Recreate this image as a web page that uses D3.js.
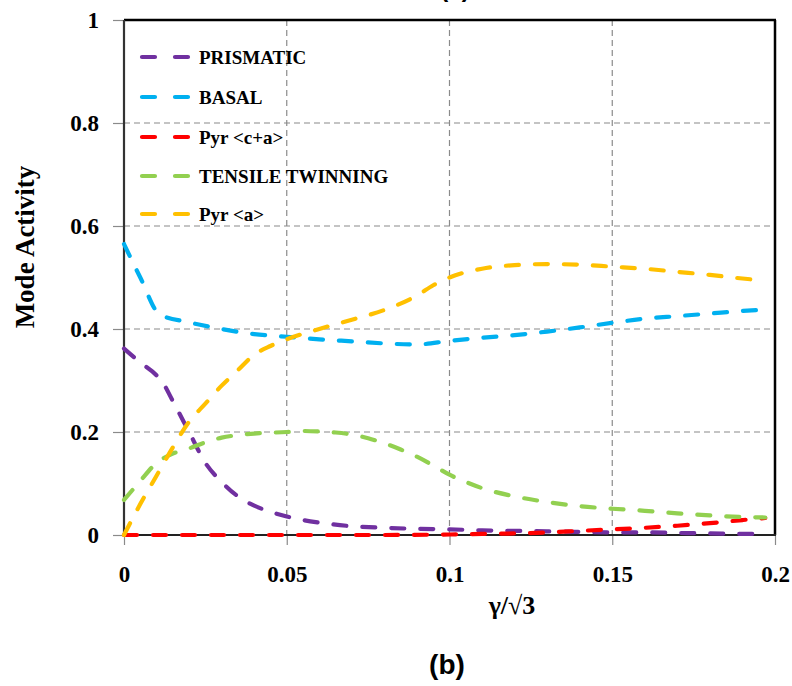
<!DOCTYPE html>
<html>
<head>
<meta charset="utf-8">
<script src="https://cdn.jsdelivr.net/npm/d3@7"></script>
<style>
  html, body { margin: 0; padding: 0; background: #fff; }
  svg { display: block; }
</style>
</head>
<body>
<svg id="chart" width="792" height="686"></svg>
<script>
// ---------- data ----------
const seriesNames = ["PRISMATIC", "BASAL", "Pyr <c+a>", "TENSILE TWINNING", "Pyr <a>"];
const seriesColors = ["#7030A0", "#00B0F0", "#FF0000", "#92D050", "#FFC000"];

const prismaticX = [0, 0.005, 0.01, 0.012, 0.015, 0.02, 0.025, 0.03, 0.035, 0.04, 0.045, 0.05, 0.055, 0.06, 0.07, 0.08, 0.09, 0.1, 0.11, 0.12, 0.13, 0.14, 0.15, 0.16, 0.17, 0.18, 0.19, 0.197];
const prismaticY = [0.362, 0.335, 0.31, 0.295, 0.26, 0.2, 0.14, 0.103, 0.075, 0.057, 0.045, 0.036, 0.029, 0.024, 0.017, 0.014, 0.012, 0.011, 0.009, 0.008, 0.007, 0.006, 0.005, 0.005, 0.004, 0.003, 0.002, 0.002];

const basalX = [0, 0.005, 0.011, 0.02, 0.03, 0.04, 0.05, 0.06, 0.07, 0.08, 0.09, 0.1, 0.11, 0.12, 0.13, 0.14, 0.15, 0.16, 0.17, 0.18, 0.19, 0.197];
const basalY = [0.565, 0.5, 0.428, 0.413, 0.4, 0.39, 0.385, 0.38, 0.376, 0.372, 0.37, 0.377, 0.383, 0.388, 0.395, 0.403, 0.412, 0.42, 0.425, 0.43, 0.435, 0.438];

const pyrcaX = [0, 0.02, 0.04, 0.06, 0.08, 0.1, 0.11, 0.12, 0.13, 0.14, 0.15, 0.16, 0.17, 0.18, 0.19, 0.197];
const pyrcaY = [0, 0, 0, 0, 0, 0.001, 0.002, 0.003, 0.005, 0.008, 0.011, 0.014, 0.018, 0.023, 0.029, 0.033];

const twinX = [0, 0.005, 0.01, 0.015, 0.02, 0.025, 0.03, 0.035, 0.04, 0.05, 0.055, 0.06, 0.065, 0.07, 0.075, 0.08, 0.085, 0.09, 0.095, 0.1, 0.105, 0.11, 0.12, 0.13, 0.14, 0.15, 0.16, 0.17, 0.18, 0.19, 0.197];
const twinY = [0.068, 0.105, 0.14, 0.158, 0.168, 0.18, 0.189, 0.194, 0.197, 0.2, 0.202, 0.201, 0.199, 0.195, 0.188, 0.178, 0.166, 0.152, 0.135, 0.117, 0.103, 0.091, 0.075, 0.064, 0.056, 0.051, 0.047, 0.042, 0.038, 0.035, 0.034];

const pyraX = [0, 0.005, 0.01, 0.015, 0.02, 0.025, 0.03, 0.035, 0.04, 0.045, 0.05, 0.06, 0.07, 0.08, 0.09, 0.095, 0.1, 0.11, 0.12, 0.13, 0.14, 0.15, 0.16, 0.17, 0.18, 0.19, 0.197];
const pyraY = [0, 0.06, 0.115, 0.17, 0.22, 0.255, 0.29, 0.32, 0.35, 0.367, 0.38, 0.4, 0.418, 0.437, 0.465, 0.485, 0.5, 0.517, 0.524, 0.526, 0.525, 0.521, 0.517, 0.511, 0.505, 0.498, 0.494];

const xTicks = [0, 0.05, 0.1, 0.15, 0.2];
const xTickLabels = ["0", "0.05", "0.1", "0.15", "0.2"];
const yTicks = [0, 0.2, 0.4, 0.6, 0.8, 1];
const yTickLabels = ["0", "0.2", "0.4", "0.6", "0.8", "1"];

const xTitle = "γ/√3";
const yTitle = "Mode Activity";
const panelLabel = "(b)";
const topLabel = "(a)";

// ---------- build ----------
(function () {
const seriesXs = [prismaticX, basalX, pyrcaX, twinX, pyraX];
const seriesYs = [prismaticY, basalY, pyrcaY, twinY, pyraY];
const series = seriesNames.map((name, i) => ({
  name, color: seriesColors[i],
  points: seriesXs[i].map((xv, j) => ({ x: xv, y: seriesYs[i][j] }))
}));

const svg = d3.select("#chart");
const pL = 124, pR = 775, pT = 20, pB = 535;
const x = d3.scaleLinear().domain([0, 0.2]).range([pL, pR]);
const y = d3.scaleLinear().domain([0, 1]).range([pB, pT]);

const serif = "'Liberation Serif', 'Times New Roman', serif";
const sans = "'Liberation Sans', Arial, sans-serif";
const gridColor = "#8a8a8a";

// gridlines
svg.append("g").selectAll("line").data(xTicks.filter(t => t > 0 && t < 0.2)).join("line")
  .attr("x1", d => x(d)).attr("x2", d => x(d)).attr("y1", pT).attr("y2", pB)
  .attr("stroke", gridColor).attr("stroke-width", 1.2).attr("stroke-dasharray", "6,4");
svg.append("g").selectAll("line").data(yTicks.filter(t => t > 0 && t < 1)).join("line")
  .attr("x1", pL).attr("x2", pR).attr("y1", d => y(d)).attr("y2", d => y(d))
  .attr("stroke", gridColor).attr("stroke-width", 1.2).attr("stroke-dasharray", "6,4");

// axes
const xAxis = d3.axisBottom(x).tickValues(xTicks).tickFormat((d, i) => xTickLabels[i]).tickSize(10).tickPadding(21);
const gx = svg.append("g").attr("transform", `translate(0,${pB})`).call(xAxis);
gx.select(".domain").remove();
gx.selectAll(".tick line").attr("stroke", gridColor).attr("stroke-width", 1.2);
gx.selectAll(".tick text").attr("font-family", serif).attr("font-weight", "bold").attr("font-size", 23).attr("fill", "#000");

const yAxis = d3.axisLeft(y).tickValues(yTicks).tickFormat((d, i) => yTickLabels[i]).tickSize(11).tickPadding(14);
const gy = svg.append("g").attr("transform", `translate(${pL},0)`).call(yAxis);
gy.select(".domain").remove();
gy.selectAll(".tick line").attr("stroke", gridColor).attr("stroke-width", 1.2);
gy.selectAll(".tick text").attr("font-family", serif).attr("font-weight", "bold").attr("font-size", 23).attr("fill", "#000");

// frame
svg.append("line").attr("x1", pL).attr("x2", pR + 1).attr("y1", pT).attr("y2", pT).attr("stroke", "#000").attr("stroke-width", 2.5);
svg.append("line").attr("x1", pR).attr("x2", pR).attr("y1", pT).attr("y2", pB).attr("stroke", "#000").attr("stroke-width", 2.5);
svg.append("line").attr("x1", pL).attr("x2", pL).attr("y1", pT).attr("y2", pB + 1).attr("stroke", "#333").attr("stroke-width", 2.2);
svg.append("line").attr("x1", pL).attr("x2", pR + 1).attr("y1", pB).attr("y2", pB).attr("stroke", "#222").attr("stroke-width", 2.2);

// series
const line = d3.line().x(d => x(d.x)).y(d => y(d.y)).curve(d3.curveMonotoneX);
svg.append("g").selectAll("path").data(series).join("path")
  .attr("d", d => line(d.points))
  .attr("fill", "none").attr("stroke", d => d.color)
  .attr("stroke-width", 4.2).attr("stroke-linecap", "round")
  .attr("stroke-dasharray", "13,16");

// legend
const lg = svg.append("g");
const legendRows = [57, 97, 137, 176, 214];
series.forEach((s, i) => {
  const yy = legendRows[i];
  lg.append("line").attr("x1", 142).attr("x2", 188).attr("y1", yy).attr("y2", yy)
    .attr("stroke", s.color).attr("stroke-width", 4.2).attr("stroke-linecap", "round")
    .attr("stroke-dasharray", "13,20");
  lg.append("text").attr("x", 199).attr("y", yy + 7).text(s.name)
    .attr("font-family", serif).attr("font-weight", "bold").attr("font-size", 19).attr("fill", "#000");
});

// titles
svg.append("text").attr("x", 512).attr("y", 614).attr("text-anchor", "middle").text(xTitle)
  .attr("font-family", serif).attr("font-weight", "bold").attr("font-size", 26).attr("fill", "#000");
svg.append("text").attr("transform", "translate(34,247) rotate(-90)").attr("text-anchor", "middle").text(yTitle)
  .attr("font-family", serif).attr("font-weight", "bold").attr("font-size", 27).attr("fill", "#000");
svg.append("text").attr("x", 447).attr("y", 674).attr("text-anchor", "middle").text(panelLabel)
  .attr("font-family", sans).attr("font-weight", "bold").attr("font-size", 28).attr("fill", "#000");
svg.append("text").attr("x", 455).attr("y", -3).attr("text-anchor", "middle").text(topLabel)
  .attr("font-family", sans).attr("font-weight", "bold").attr("font-size", 24).attr("fill", "#000");
})();
</script>
</body>
</html>
